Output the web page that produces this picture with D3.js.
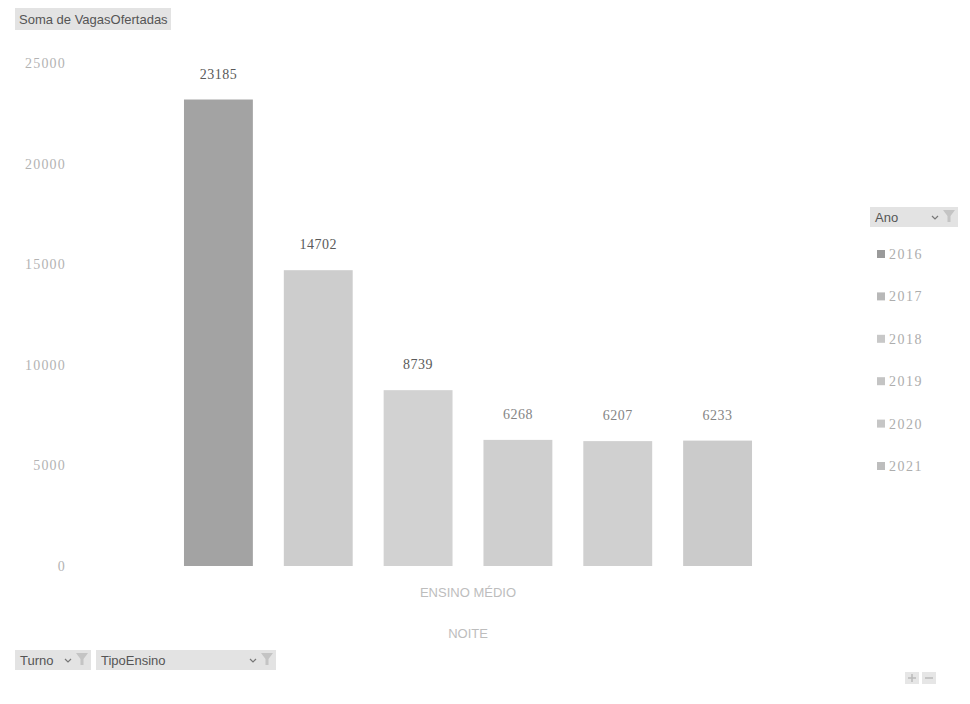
<!DOCTYPE html>
<html>
<head>
<meta charset="utf-8">
<script src="https://cdn.jsdelivr.net/npm/d3@7"></script>
<style>
  body { margin: 0; background: #fff; }
  svg { display: block; }
</style>
</head>
<body>
<div id="chart"></div>
<script>
// data
const anos = ["2016", "2017", "2018", "2019", "2020", "2021"];
const vagas = [23185, 14702, 8739, 6268, 6207, 6233];
const cores = ["#a3a3a3", "#cdcdcd", "#d2d2d2", "#cfcfcf", "#d0d0d0", "#cbcbcb"];
const legendaCores = ["#9a9a9a", "#b8b8b8", "#c8c8c8", "#c4c4c4", "#c6c6c6", "#bdbdbd"];
const yTicks = [0, 5000, 10000, 15000, 20000, 25000];
const categoria = "ENSINO MÉDIO";
const turno = "NOITE";

const width = 970, height = 704;
const plot = {left: 168, right: 768, top: 63, bottom: 566};

const svg = d3.select("#chart").append("svg")
  .attr("width", width)
  .attr("height", height);

const x = d3.scaleBand()
  .domain(anos)
  .range([plot.left, plot.right])
  .paddingInner(0.31)
  .paddingOuter(0.16);

const y = d3.scaleLinear()
  .domain([0, 25000])
  .range([plot.bottom, plot.top]);

// y axis labels (no line, no gridlines)
const yAxis = d3.axisLeft(y)
  .tickValues(yTicks)
  .tickFormat(d3.format("d"))
  .tickSize(0)
  .tickPadding(0);
const gy = svg.append("g")
  .attr("transform", "translate(66,0)")
  .call(yAxis);
gy.select(".domain").remove();
gy.selectAll("text")
  .attr("fill", "#b3b3b3")
  .style("font-family", "'Liberation Serif', serif")
  .style("font-size", "14px")
  .style("letter-spacing", "1.2px");

// bars
svg.selectAll("rect.bar")
  .data(anos)
  .enter()
  .append("rect")
  .attr("class", "bar")
  .attr("x", d => x(d))
  .attr("y", (d, i) => y(vagas[i]))
  .attr("width", x.bandwidth())
  .attr("height", (d, i) => y(0) - y(vagas[i]))
  .attr("fill", (d, i) => cores[i]);

// value labels
svg.selectAll("text.val")
  .data(anos)
  .enter()
  .append("text")
  .attr("class", "val")
  .attr("x", d => x(d) + x.bandwidth() / 2)
  .attr("y", (d, i) => y(vagas[i]) - 21)
  .attr("text-anchor", "middle")
  .attr("fill", (d, i) => i < 3 ? "#5a5a5a" : "#858585")
  .style("font-family", "'Liberation Serif', serif")
  .style("font-size", "14px")
  .style("letter-spacing", "0.5px")
  .text((d, i) => vagas[i]);

// category labels
const cx = (plot.left + plot.right) / 2;
svg.append("text")
  .attr("x", cx).attr("y", 597)
  .attr("text-anchor", "middle")
  .attr("fill", "#bdbdbd")
  .style("font-family", "Arial, 'Liberation Sans', sans-serif")
  .style("font-size", "13px")
  .text(categoria);
svg.append("text")
  .attr("x", cx).attr("y", 638)
  .attr("text-anchor", "middle")
  .attr("fill", "#bdbdbd")
  .style("font-family", "Arial, 'Liberation Sans', sans-serif")
  .style("font-size", "13px")
  .text(turno);

// field buttons
function funil(g, fx, fy) {
  g.append("path")
    .attr("d", `M${fx},${fy} h12 l-4.5,6 v6 h-3 v-6 z`)
    .attr("fill", "#c4c4c4");
}
function seta(g, sx, sy) {
  g.append("path")
    .attr("d", `M${sx},${sy} l3,3 l3,-3`)
    .attr("fill", "none")
    .attr("stroke", "#777")
    .attr("stroke-width", 1.2);
}
function botao(bx, by, w, label, comFiltro) {
  const g = svg.append("g");
  g.append("rect")
    .attr("x", bx).attr("y", by)
    .attr("width", w).attr("height", 20)
    .attr("fill", "#e3e3e3");
  g.append("text")
    .attr("x", bx + 5).attr("y", by + 15)
    .attr("fill", "#555")
    .style("font-family", "Arial, 'Liberation Sans', sans-serif")
    .style("font-size", "13px")
    .text(label);
  if (comFiltro) {
    seta(g, bx + w - 26, by + 9);
    funil(g, bx + w - 15, by + 3);
  }
  return g;
}

// title
svg.append("rect")
  .attr("x", 15).attr("y", 8)
  .attr("width", 156).attr("height", 22)
  .attr("fill", "#e3e3e3");
svg.append("text")
  .attr("x", 19).attr("y", 24)
  .attr("fill", "#555")
  .style("font-family", "Arial, 'Liberation Sans', sans-serif")
  .style("font-size", "13px")
  .text("Soma de VagasOfertadas");

botao(870, 207, 88, "Ano", true);
botao(15, 650, 76, "Turno", true);
botao(96, 650, 180, "TipoEnsino", true);

// legend
const leg = svg.append("g").attr("transform", "translate(877,0)");
const ly = d3.scalePoint().domain(anos).range([254, 466]);
leg.selectAll("rect")
  .data(anos)
  .enter()
  .append("rect")
  .attr("x", 0)
  .attr("y", d => ly(d) - 4)
  .attr("width", 8).attr("height", 8)
  .attr("fill", (d, i) => legendaCores[i]);
leg.selectAll("text")
  .data(anos)
  .enter()
  .append("text")
  .attr("x", 12)
  .attr("y", d => ly(d) + 5)
  .attr("fill", "#adadad")
  .style("font-family", "'Liberation Serif', serif")
  .style("font-size", "14px")
  .style("letter-spacing", "1.5px")
  .text(d => d);

// zoom buttons bottom right
const zb = svg.append("g").attr("transform", "translate(905,672)");
zb.append("rect").attr("x", 0).attr("y", 0).attr("width", 14).attr("height", 12).attr("fill", "#e6e6e6");
zb.append("rect").attr("x", 17).attr("y", 0).attr("width", 14).attr("height", 12).attr("fill", "#e6e6e6");
zb.append("path").attr("d", "M7,2 v8 M3,6 h8 M20,6 h8").attr("stroke", "#bbb").attr("stroke-width", 1.5);
</script>
</body>
</html>
